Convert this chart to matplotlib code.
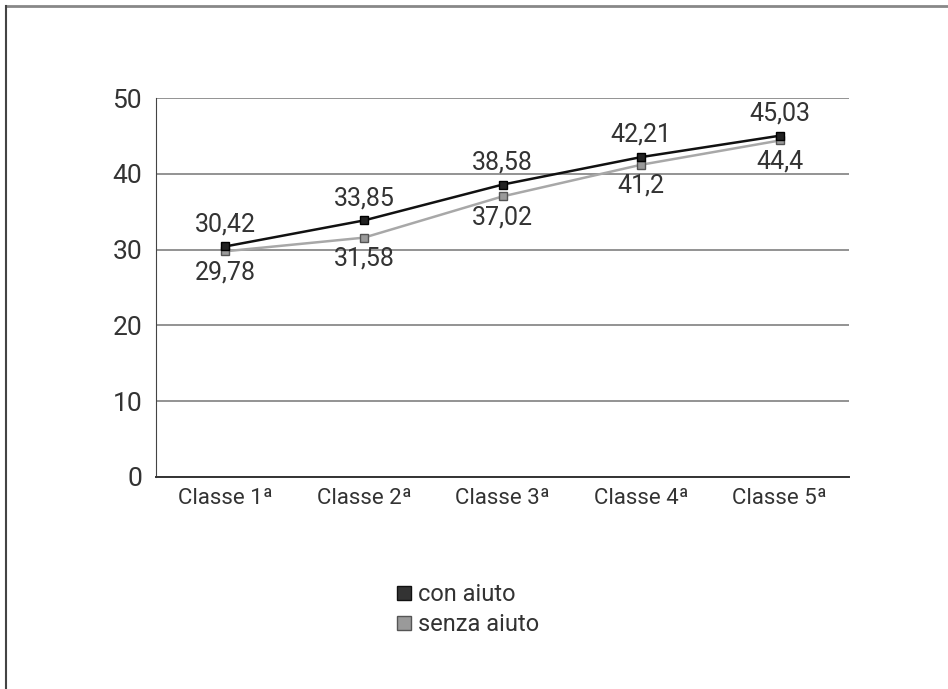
import matplotlib.pyplot as plt
from matplotlib.lines import Line2D

plt.rcParams['font.family'] = ['Roboto', 'DejaVu Sans']

classi = ["Classe 1ª", "Classe 2ª", "Classe 3ª", "Classe 4ª", "Classe 5ª"]
con_aiuto = [30.42, 33.85, 38.58, 42.21, 45.03]
senza_aiuto = [29.78, 31.58, 37.02, 41.2, 44.4]
yticks = [0, 10, 20, 30, 40, 50]

txt = "#333333"
fs = 18

fig = plt.figure(figsize=(9.48, 6.89), dpi=100)
ax = fig.add_axes([0.1646, 0.3077, 0.731, 0.550])

x = list(range(1, len(classi) + 1))

ax.plot(x, con_aiuto, color="#111111", lw=1.8, marker="s", ms=6,
        mfc="#222222", mec="#000000", zorder=4)
ax.plot(x, senza_aiuto, color="#a8a8a8", lw=1.8, marker="s", ms=6,
        mfc="#9a9a9a", mec="#555555", zorder=3)

def fmt(v):
    s = ("%.2f" % v).rstrip("0").rstrip(".")
    return s.replace(".", ",")

# labels: above for "con aiuto", below for "senza aiuto"
for xi, v in zip(x, con_aiuto):
    ax.annotate(fmt(v), (xi, v), xytext=(0, 11), textcoords="offset points",
                ha="center", va="baseline", fontsize=fs, color=txt)
for xi, v in zip(x, senza_aiuto):
    ax.annotate(fmt(v), (xi, v), xytext=(0, -20), textcoords="offset points",
                ha="center", va="baseline", fontsize=fs, color=txt)

ax.set_xlim(0.5, 5.5)
ax.set_ylim(0, 50)
ax.set_yticks(yticks)
ax.set_yticklabels([str(t) for t in yticks], fontsize=fs + 1, color=txt)
ax.set_xticks(x)
ax.set_xticklabels(classi, fontsize=fs - 2, color=txt)
ax.tick_params(length=0, pad=10)
ax.tick_params(axis="x", pad=8)
ax.yaxis.grid(True, color="#808080", lw=1.2)
ax.set_axisbelow(True)
for s in ["top", "right"]:
    ax.spines[s].set_visible(False)
ax.spines["left"].set_color("#444444")
ax.spines["bottom"].set_color("#333333")
ax.spines["bottom"].set_linewidth(1.4)

handles = [
    Line2D([], [], ls="none", marker="s", ms=10, mfc="#333333", mec="#111111"),
    Line2D([], [], ls="none", marker="s", ms=10, mfc="#9a9a9a", mec="#555555"),
]
leg = fig.legend(handles, ["con aiuto", "senza aiuto"], loc="center",
                 bbox_to_anchor=(0.494, 0.115), frameon=False, fontsize=fs - 1,
                 handlelength=0.6, handletextpad=0.3, labelspacing=0.3,
                 labelcolor=txt)

# frame lines (top and left only)
fig.add_artist(Line2D([0.006, 1.0], [0.992, 0.992], color="#888888", lw=2))
fig.add_artist(Line2D([0.006, 0.006], [0.0, 0.992], color="#444444", lw=1.5))

fig.savefig("out.png", dpi=100)
